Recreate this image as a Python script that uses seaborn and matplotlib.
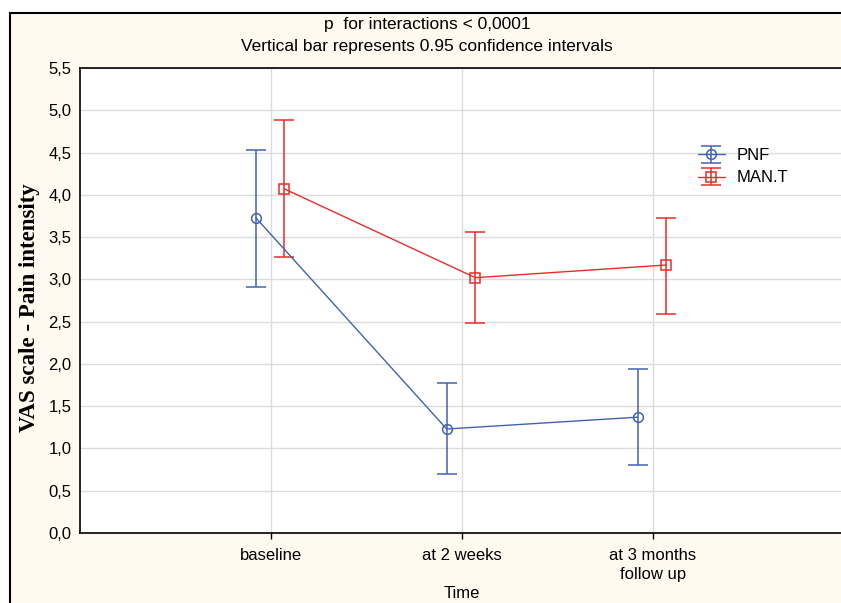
import matplotlib
matplotlib.use("Agg")
import matplotlib.pyplot as plt
import matplotlib.patches as patches
from matplotlib.ticker import FuncFormatter, MultipleLocator
import seaborn as sns
import numpy as np
import pandas as pd

# data
time_points = ["baseline", "at 2 weeks", "at 3 months\nfollow up"]
groups = ["PNF", "MAN.T"]
pnf_mean = [3.73, 1.23, 1.37]
pnf_low = [2.91, 0.70, 0.80]
pnf_high = [4.53, 1.77, 1.94]
mant_mean = [4.07, 3.02, 3.17]
mant_low = [3.26, 2.48, 2.59]
mant_high = [4.88, 3.56, 3.73]

colors = {"PNF": "#4262b2", "MAN.T": "#ee2a2a"}
markers = {"PNF": "o", "MAN.T": "s"}
offsets = {"PNF": -0.08, "MAN.T": 0.07}

rows = []
for g, m, lo, hi in [("PNF", pnf_mean, pnf_low, pnf_high),
                     ("MAN.T", mant_mean, mant_low, mant_high)]:
    for i, t in enumerate(time_points):
        rows.append({"group": g, "time": t, "pos": i + offsets[g],
                     "mean": m[i], "low": lo[i], "high": hi[i]})
df = pd.DataFrame(rows)

sns.set_style("white")
plt.rcParams["font.family"] = ["Liberation Sans", "DejaVu Sans"]
plt.rcParams["text.color"] = "black"
plt.rcParams["xtick.color"] = "black"
plt.rcParams["ytick.color"] = "black"
plt.rcParams["axes.labelcolor"] = "black"

fig = plt.figure(figsize=(8.41, 6.03), dpi=100, facecolor="white")

# cream outer frame (cropped on right and bottom)
frame = patches.Rectangle((10 / 841, -0.1), 1.2, (603 - 13) / 603 + 0.1,
                          transform=fig.transFigure, facecolor="#fffaf0",
                          edgecolor="black", linewidth=1.5, zorder=-5)
fig.patches.append(frame)

ax = fig.add_axes([80 / 841, 70 / 603, 764 / 841, 465 / 603])
ax.set_facecolor("white")

handles = []
for g in groups:
    sub = df[df["group"] == g]
    c = colors[g]
    eb = ax.errorbar(sub["pos"], sub["mean"],
                     yerr=[sub["mean"] - sub["low"], sub["high"] - sub["mean"]],
                     fmt="none", ecolor=c, elinewidth=1.1, capsize=7.2,
                     capthick=1.1, zorder=3)
    sns.lineplot(data=sub, x="pos", y="mean", color=c, marker=markers[g],
                 markersize=7, markerfacecolor="none", markeredgecolor=c,
                 markeredgewidth=1.1, linewidth=1.0, ax=ax, zorder=4,
                 estimator=None, sort=False)
    line = ax.lines[-1]
    handles.append((eb, line))

ax.set_xlim(-1, 3)
ax.set_ylim(0, 5.5)
ax.set_xticks(range(len(time_points)))
ax.set_xticklabels(time_points, fontsize=12, linespacing=1.3)
ax.yaxis.set_major_locator(MultipleLocator(0.5))
ax.yaxis.set_major_formatter(FuncFormatter(lambda v, p: f"{v:.1f}".replace(".", ",")))
ax.tick_params(axis="y", labelsize=12, length=3, width=1, pad=6, direction="in")
ax.tick_params(axis="x", length=4, width=1, pad=7, direction="out", bottom=True)

ax.grid(True, color="#dcdcdc", linewidth=1)
ax.set_axisbelow(True)
for s in ["left", "bottom", "top", "right"]:
    ax.spines[s].set_color("black")
    ax.spines[s].set_linewidth(1.2)

ax.set_xlabel("Time", fontsize=12, labelpad=3)
ax.set_ylabel("VAS scale - Pain intensity", fontsize=16.5, fontweight="bold",
              family=["Liberation Serif", "DejaVu Serif"])
ax.yaxis.set_label_coords(-0.052, 0.484)

fig.text(427 / 841, 1 - 25 / 603, "p  for interactions < 0,0001",
         ha="center", va="center", fontsize=12.5)
fig.text(427 / 841, 1 - 46 / 603, "Vertical bar represents 0.95 confidence intervals",
         ha="center", va="center", fontsize=12.5)

ax.legend(handles, groups, loc="upper left",
          bbox_to_anchor=(698 / 841, 1 - 148 / 603), bbox_transform=fig.transFigure,
          frameon=False, fontsize=12, handlelength=1.6, handletextpad=0.7,
          labelspacing=0.45, borderpad=0, borderaxespad=0)

fig.savefig("out.png", dpi=100, facecolor=fig.get_facecolor())
